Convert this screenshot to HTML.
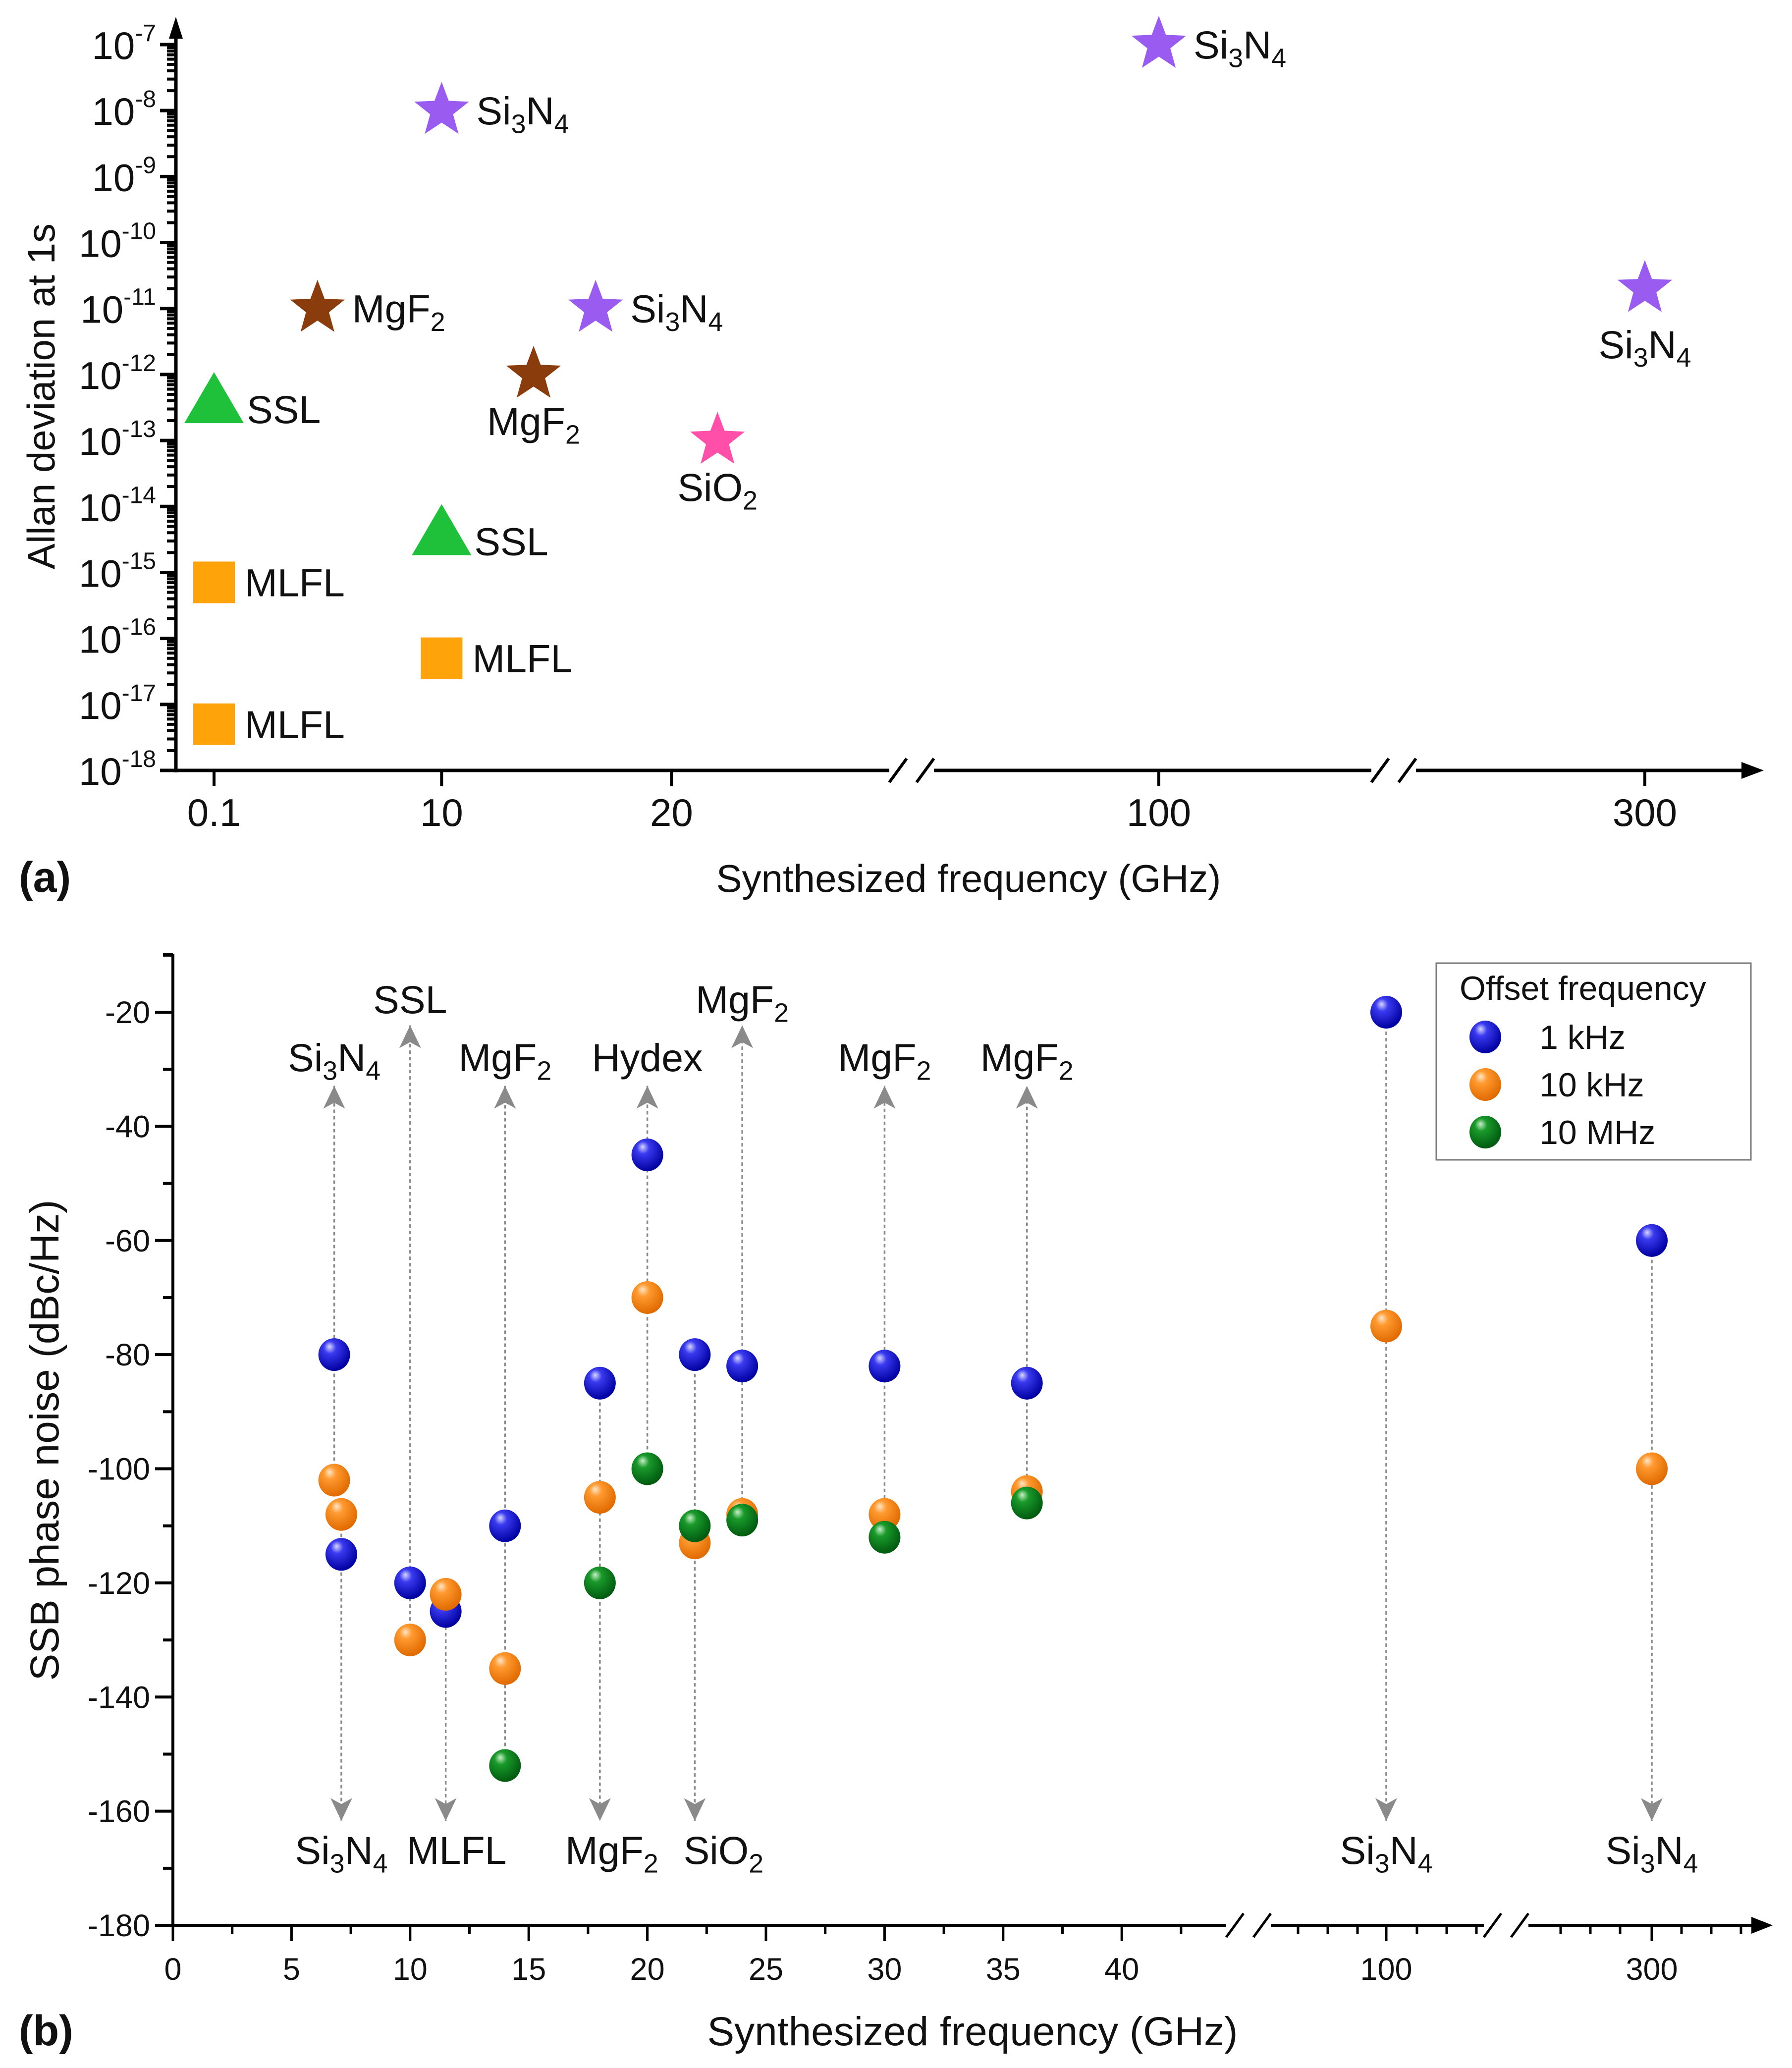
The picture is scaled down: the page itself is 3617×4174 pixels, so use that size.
<!DOCTYPE html>
<html><head><meta charset="utf-8"><style>
html,body{margin:0;padding:0;background:#fff;}
svg{display:block;font-family:"Liberation Sans",Arial,sans-serif;}
</style></head><body>
<svg id="fig" width="3617" height="4174" viewBox="0 0 3617 4174" xmlns="http://www.w3.org/2000/svg">
<defs>
<radialGradient id="gBlue" cx="40%" cy="35%" r="65%" fx="35%" fy="25%"><stop offset="0" stop-color="#d8d8ff"/><stop offset="0.3" stop-color="#3a3af0"/><stop offset="1" stop-color="#0000a0"/></radialGradient>
<radialGradient id="gOrange" cx="40%" cy="35%" r="65%" fx="35%" fy="25%"><stop offset="0" stop-color="#ffe6c8"/><stop offset="0.3" stop-color="#ff9a30"/><stop offset="1" stop-color="#e06a00"/></radialGradient>
<radialGradient id="gGreen" cx="40%" cy="35%" r="65%" fx="35%" fy="25%"><stop offset="0" stop-color="#c8f0c8"/><stop offset="0.3" stop-color="#1a9a2a"/><stop offset="1" stop-color="#005a10"/></radialGradient>
</defs>
<g id="panelA"></g>
<g id="panelB"></g>
</svg>
<script>
// ---------- Panel (a) data ----------
const aFreq  = [10, 100, 16.7, 300, 4.6, 14, 22, 0.1, 10, 0.1, 10, 0.1];
const aExp   = [-8, -7, -11, -10.7, -11, -12, -13, -12.4, -14.4, -15.15, -16.3, -17.3];
const aShape = ["star","star","star","star","star","star","star","tri","tri","sq","sq","sq"];
const aMat   = ["Si3N4","Si3N4","Si3N4","Si3N4","MgF2","MgF2","SiO2","SSL","SSL","MLFL","MLFL","MLFL"];
const aLabelPos = ["right","right","right","below","right","below","below","right","right","right","right","right"];
const aYTicks = [-7,-8,-9,-10,-11,-12,-13,-14,-15,-16,-17,-18];
const aXTicks = [0.1, 10, 20, 100, 300];
const aXTickLabels = ["0.1","10","20","100","300"];

// ---------- Panel (b) data ----------
const bFreqLabels = [6.8, 7.1, 10, 11.5, 14, 18, 20, 22, 24, 30, 36, 100, 300];
const b1kHz  = [-80, -115, -120, -125, -110, -85, -45, -80, -82, -82, -85, -20, -60];
const b10kHz = [-102, -108, -130, -122, -135, -105, -70, -113, -108, -108, -104, -75, -100];
const b10MHz = [null, null, null, null, -152, -120, -100, -110, -109, -112, -106, null, null];
const bArrowDir = ["up","down","upHigh","down","up","down","up","down","upHigh","up","up","down","down"];
const bArrowLabel = ["Si3N4","Si3N4","SSL","MLFL","MgF2","MgF2","Hydex","SiO2","MgF2","MgF2","MgF2","Si3N4","Si3N4"];
const bYTicks = [-20,-40,-60,-80,-100,-120,-140,-160,-180];
const bXTicks = [0,5,10,15,20,25,30,35,40,100,300];
const bSeriesNames = ["1 kHz","10 kHz","10 MHz"];

const NS = "http://www.w3.org/2000/svg";
function mk(tag, attrs, parent){ const e=document.createElementNS(NS,tag); for(const k in attrs) e.setAttribute(k,attrs[k]); if(parent) parent.appendChild(e); return e; }
function chem(parent, txt, x, y, size, anchor){
  const t = mk("text",{x:x,y:y,"font-size":size,"text-anchor":anchor||"start",fill:"#111"},parent);
  const parts = txt.match(/[A-Za-z]+|\d+/g);
  parts.forEach(p=>{
    const s = mk("tspan",{},t);
    if(/^\d+$/.test(p)){ s.setAttribute("font-size", size*0.68); s.setAttribute("dy", size*0.22); }
    else if(s.previousSibling && /^\d+$/.test(s.previousSibling.textContent)){ s.setAttribute("dy", -size*0.22); }
    s.textContent = p;
  });
  return t;
}
function starPath(cx,cy,R){ let d=""; for(let i=0;i<10;i++){ const r=i%2?R*0.42:R; const a=-Math.PI/2+i*Math.PI/5; d+=(i?"L":"M")+(cx+r*Math.cos(a)).toFixed(1)+","+(cy+r*Math.sin(a)).toFixed(1);} return d+"Z"; }

// ---------- Panel (a) ----------
const A = document.getElementById("panelA");
const aX0=355, aY0=1555, aYtop=90, aDec=(1555-90)/11;
function xa(f){ if(f<=40) return 432+(f-0.1)*46.4; if(f<=150) return 2339+(f-100)*1.0; return 3320+(f-300)*1.0; }
function ya(e){ return aYtop + (-7 - e)*aDec; }

const axA = mk("g",{},A);


mk("line",{x1:aX0,y1:aY0+4,x2:aX0,y2:70,stroke:"#000","stroke-width":7},axA);
mk("path",{d:`M${aX0-14},78 L${aX0},34 L${aX0+14},78 Z`,fill:"#000"},axA);
mk("line",{x1:aX0-30,y1:aY0,x2:3520,y2:aY0,stroke:"#000","stroke-width":7},axA);
mk("path",{d:`M3515,${aY0-17} L3560,${aY0} L3515,${aY0+17} Z`,fill:"#000"},axA);
[1840,2813].forEach(bx=>{
  mk("rect",{x:bx-45,y:aY0-12,width:90,height:24,fill:"#fff"},axA);
  mk("line",{x1:bx-45,y1:aY0+24,x2:bx-10,y2:aY0-24,stroke:"#000","stroke-width":6},axA);
  mk("line",{x1:bx+10,y1:aY0+24,x2:bx+45,y2:aY0-24,stroke:"#000","stroke-width":6},axA);
});
aYTicks.forEach(e=>{
  const y=ya(e);
  mk("line",{x1:aX0-32,y1:y,x2:aX0,y2:y,stroke:"#000","stroke-width":7},axA);
  if(e>-18){ for(let m=2;m<10;m++){ const yy=y+aDec-Math.log10(m)*aDec; mk("line",{x1:aX0-18,y1:yy,x2:aX0,y2:yy,stroke:"#000","stroke-width":6},axA);} }
  const t=mk("text",{x:aX0-40,y:y+29,"font-size":78,"text-anchor":"end",fill:"#111"},axA);
  
  
  const s1=mk("tspan",{},t); s1.textContent="10";
  const s2=mk("tspan",{"font-size":48,dy:-36},t); s2.textContent=String(e);
});
aXTicks.forEach((f,i)=>{
  const x=xa(f);
  mk("line",{x1:x,y1:aY0,x2:x,y2:aY0+32,stroke:"#000","stroke-width":6},axA);
  const t=mk("text",{x:x,y:aY0+112,"font-size":78,"text-anchor":"middle",fill:"#111"},axA);
  
  
  t.textContent=aXTickLabels[i];
});
const aXT=mk("text",{x:1955,y:1800,"font-size":78,"text-anchor":"middle",fill:"#111"},A);


aXT.textContent="Synthesized frequency (GHz)";
const aYT=mk("text",{x:0,y:0,"font-size":78,"text-anchor":"middle",fill:"#111",transform:"translate(110,800) rotate(-90)"},A);


aYT.textContent="Allan deviation at 1s";
const aLab=mk("text",{x:38,y:1800,"font-size":86,"font-weight":"bold",fill:"#111"},A);


aLab.textContent="(a)";

const matColor={"Si3N4":"#9a5cf0","MgF2":"#8b3c0c","SiO2":"#ff4fa8","SSL":"#1fc03a","MLFL":"#ffa30a"};
aFreq.forEach((f,i)=>{
  const x=xa(f), y=ya(aExp[i]);
  const g=mk("g",{},A);
  
  
  const c=matColor[aMat[i]];
  let lx, ly, anchor="start";
  if(aShape[i]==="star"){
    mk("path",{d:starPath(x,y,58),fill:c},g);
    if(aLabelPos[i]==="right"){ lx=x+70; ly=y+28; } else { lx=x; ly=y+(aMat[i]==="Si3N4"?140:122); anchor="middle"; }
  } else if(aShape[i]==="tri"){
    mk("path",{d:`M${x},${y-58} L${x+60},${y+45} L${x-60},${y+45} Z`,fill:c},g);
    lx=x+66; ly=y+45;
  } else {
    mk("rect",{x:x-42,y:y-42,width:84,height:84,fill:c},g);
    lx=x+62; ly=y+28;
  }
  chem(g,aMat[i],lx,ly,79,anchor);
});

// ---------- Panel (b) ----------
const B=document.getElementById("panelB");
const bX0=349, bY0=3886, bPer=(3886-2043)/160;
function xb(f){ if(f<=45) return 349+f*47.88; if(f<=150) return 2798+(f-100)*0.5; return 3334+(f-300)*0.5; }
function yb(v){ return 2043+(-20-v)*bPer; }
const axB=mk("g",{},B);


mk("line",{x1:bX0,y1:bY0+3,x2:bX0,y2:1926,stroke:"#000","stroke-width":6},axB);
mk("line",{x1:bX0-20,y1:1926,x2:bX0,y2:1926,stroke:"#000","stroke-width":6},axB);
mk("line",{x1:bX0-3,y1:bY0,x2:3540,y2:bY0,stroke:"#000","stroke-width":6},axB);
mk("path",{d:`M3535,${bY0-17} L3578,${bY0} L3535,${bY0+17} Z`,fill:"#000"},axB);
[2520,3040].forEach(bx=>{
  mk("rect",{x:bx-45,y:bY0-12,width:90,height:24,fill:"#fff"},axB);
  mk("line",{x1:bx-45,y1:bY0+24,x2:bx-10,y2:bY0-24,stroke:"#000","stroke-width":5},axB);
  mk("line",{x1:bx+10,y1:bY0+24,x2:bx+45,y2:bY0-24,stroke:"#000","stroke-width":5},axB);
});
for(let v=-180; v<=-10; v+=10){
  const y=yb(v), major=(v%20===0);
  mk("line",{x1:bX0-(major?36:20),y1:y,x2:bX0,y2:y,stroke:"#000","stroke-width":6},axB);
}
bYTicks.forEach(v=>{
  const t=mk("text",{x:bX0-46,y:yb(v)+22,"font-size":63,"text-anchor":"end",fill:"#111"},axB);
  
  
  t.textContent=String(v);
});
for(let f=2.5; f<=45; f+=5){ const x=xb(f); mk("line",{x1:x,y1:bY0,x2:x,y2:bY0+18,stroke:"#000","stroke-width":5},axB); }
[2620,2680,2740,2860,2920,2980,3150,3210,3270,3394,3454,3514].forEach(x=>mk("line",{x1:x,y1:bY0,x2:x,y2:bY0+18,stroke:"#000","stroke-width":5},axB));
bXTicks.forEach(f=>{
  const x=xb(f);
  mk("line",{x1:x,y1:bY0,x2:x,y2:bY0+32,stroke:"#000","stroke-width":5},axB);
  const t=mk("text",{x:x,y:bY0+110,"font-size":63,"text-anchor":"middle",fill:"#111"},axB);
  
  
  t.textContent=String(f);
});
const bXT=mk("text",{x:1963,y:4128,"font-size":82,"text-anchor":"middle",fill:"#111"},B);


bXT.textContent="Synthesized frequency (GHz)";
const bYT=mk("text",{x:0,y:0,"font-size":82,"text-anchor":"middle",fill:"#111",transform:"translate(118,2907) rotate(-90)"},B);


bYT.textContent="SSB phase noise (dBc/Hz)";
const bLab=mk("text",{x:38,y:4128,"font-size":86,"font-weight":"bold",fill:"#111"},B);


bLab.textContent="(b)";

const labOffset=[0,0,0,22,0,24,0,58,0,0,0,0,0];
bFreqLabels.forEach((f,i)=>{
  const x=xb(f);
  const vals=[b1kHz[i],b10kHz[i],b10MHz[i]].filter(v=>v!==null);
  const g=mk("g",{},B);
  
  
  let tipV, yStart;
  if(bArrowDir[i]==="down"){ tipV=-161.7; yStart=yb(Math.max(...vals)); }
  else { tipV=(bArrowDir[i]==="upHigh")?-22.3:-32.9; yStart=yb(Math.min(...vals)); }
  const yTip=yb(tipV);
  mk("line",{x1:x,y1:yStart,x2:x,y2:yTip,stroke:"#8a8a8a","stroke-width":3.5,"stroke-dasharray":"7,6"},g);
  const dir=(bArrowDir[i]==="down")?1:-1;
  mk("path",{d:`M${x},${yTip} L${x-22},${yTip-dir*46} L${x},${yTip-dir*34} L${x+22},${yTip-dir*46} Z`,fill:"#8a8a8a"},g);
  let ly;
  if(dir===1) ly=3762; else ly=(bArrowDir[i]==="upHigh")?2045:2162;
  chem(g,bArrowLabel[i],x+labOffset[i],ly,79,"middle");
});

const grads=["url(#gBlue)","url(#gOrange)","url(#gGreen)"];
[b1kHz,b10kHz,b10MHz].forEach((ser,si)=>{
  ser.forEach((v,i)=>{
    if(v===null) return;
    const c=mk("ellipse",{cx:xb(bFreqLabels[i]),cy:yb(v),rx:32,ry:33,fill:grads[si]},B);
    
    
  });
});

const L=mk("g",{},B);


mk("rect",{x:2899,y:1944,width:635,height:397,fill:"#fff",stroke:"#777","stroke-width":3},L);
const lt=mk("text",{x:2946,y:2018,"font-size":68,fill:"#111"},L);


lt.textContent="Offset frequency";
bSeriesNames.forEach((n,si)=>{
  const y=2093+si*96;
  const e=mk("g",{},L);
  
  
  mk("ellipse",{cx:2998,cy:y,rx:32,ry:33,fill:grads[si]},e);
  const t=mk("text",{x:3107,y:y+24,"font-size":68,fill:"#111"},e);
  t.textContent=n;
});
</script>
</body></html>
